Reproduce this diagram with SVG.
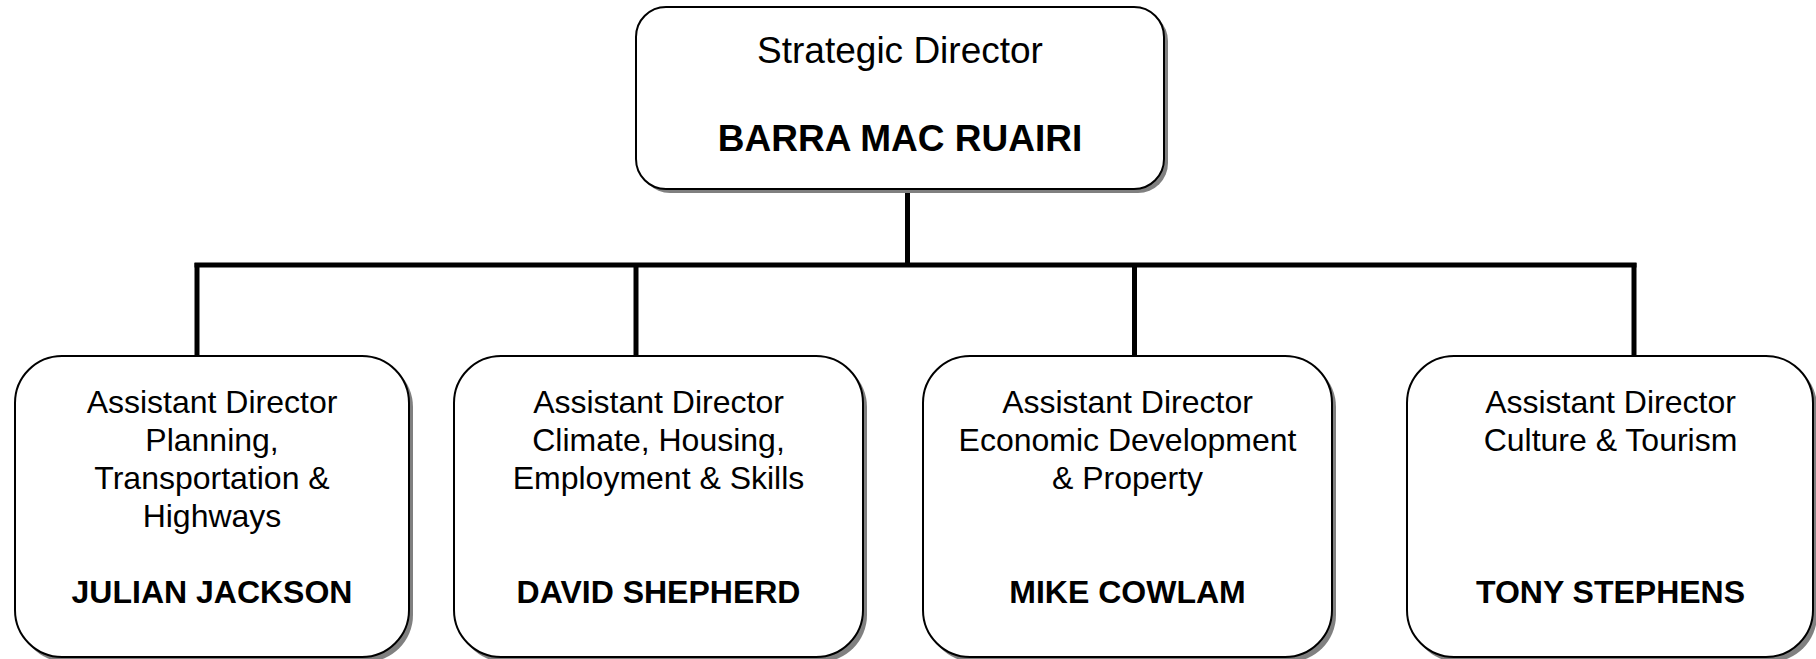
<svg xmlns="http://www.w3.org/2000/svg" width="1816" height="659" viewBox="0 0 1816 659">
<style>
.box{fill:#ffffff;stroke:#000000;stroke-width:2}
.shadow{fill:#808080;stroke:none}
.t{font-family:"Liberation Sans",Arial,sans-serif;fill:#000000;text-anchor:middle}
.top{font-size:37px}
.sub{font-size:32px}
.b{font-weight:bold}
.conn{stroke:#000000;stroke-width:5;fill:none}
</style>
<rect width="1816" height="659" fill="#ffffff"/>
<g id="connectors">
<line class="conn" x1="907.5" y1="189" x2="907.5" y2="265"/>
<line class="conn" x1="194.5" y1="265" x2="1636.5" y2="265"/>
<line class="conn" x1="197" y1="263" x2="197" y2="356"/>
<line class="conn" x1="636" y1="265" x2="636" y2="356"/>
<line class="conn" x1="1134.5" y1="265" x2="1134.5" y2="356"/>
<line class="conn" x1="1634" y1="263" x2="1634" y2="356"/>
</g>
<g id="strategic-director">
<rect class="shadow" x="640" y="11" width="528" height="182" rx="30"/>
<rect class="box" x="636" y="7" width="528" height="182" rx="30"/>
<text class="t top" x="900" y="63">Strategic Director</text>
<text class="t top b" x="900" y="151">BARRA MAC RUAIRI</text>
</g>
<g id="ad-planning">
<rect class="shadow" x="19" y="360" width="394" height="302" rx="47"/>
<rect class="box" x="15" y="356" width="394" height="301" rx="47"/>
<text class="t sub" x="212" y="413">Assistant Director</text>
<text class="t sub" x="212" y="451">Planning,</text>
<text class="t sub" x="212" y="489">Transportation &amp;</text>
<text class="t sub" x="212" y="527">Highways</text>
<text class="t sub b" x="212" y="603">JULIAN JACKSON</text>
</g>
<g id="ad-climate">
<rect class="shadow" x="458" y="360" width="409" height="302" rx="47"/>
<rect class="box" x="454" y="356" width="409" height="301" rx="47"/>
<text class="t sub" x="658.5" y="413">Assistant Director</text>
<text class="t sub" x="658.5" y="451">Climate, Housing,</text>
<text class="t sub" x="658.5" y="489">Employment &amp; Skills</text>
<text class="t sub b" x="658.5" y="603">DAVID SHEPHERD</text>
</g>
<g id="ad-economic">
<rect class="shadow" x="927" y="360" width="409" height="302" rx="47"/>
<rect class="box" x="923" y="356" width="409" height="301" rx="47"/>
<text class="t sub" x="1127.5" y="413">Assistant Director</text>
<text class="t sub" x="1127.5" y="451">Economic Development</text>
<text class="t sub" x="1127.5" y="489">&amp; Property</text>
<text class="t sub b" x="1127.5" y="603">MIKE COWLAM</text>
</g>
<g id="ad-culture">
<rect class="shadow" x="1411" y="360" width="406" height="302" rx="47"/>
<rect class="box" x="1407" y="356" width="406" height="301" rx="47"/>
<text class="t sub" x="1610.5" y="413">Assistant Director</text>
<text class="t sub" x="1610.5" y="451">Culture &amp; Tourism</text>
<text class="t sub b" x="1610.5" y="603">TONY STEPHENS</text>
</g>
</svg>
